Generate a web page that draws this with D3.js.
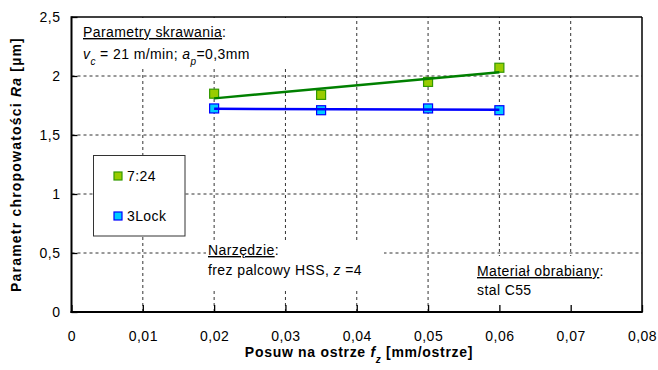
<!DOCTYPE html>
<html>
<head>
<meta charset="utf-8">
<script src="https://cdn.jsdelivr.net/npm/d3@7"></script>
<style>
  html, body { margin: 0; padding: 0; background: #fff; }
  svg { display: block; font-family: "Liberation Sans", Arial, sans-serif; }
</style>
</head>
<body>
<svg id="chart" width="658" height="370"></svg>
<script>
// ---- data ----
const feeds = [0.02, 0.035, 0.05, 0.06];          // f_z [mm/ostrze]
const ra724 = [1.85, 1.84, 1.95, 2.07];           // series "7:24"
const ra3Lock = [1.725, 1.71, 1.725, 1.71];       // series "3Lock"
const seriesNames = ["7:24", "3Lock"];
const xTicks = [0, 0.01, 0.02, 0.03, 0.04, 0.05, 0.06, 0.07, 0.08];
const yTicks = [0, 0.5, 1, 1.5, 2, 2.5];

const W = 658, H = 370;
const margin = {left: 71.5, right: 16, top: 17, bottom: 58};
const svg = d3.select("#chart");

const x = d3.scaleLinear().domain([0, 0.08]).range([margin.left, W - margin.right]);
const y = d3.scaleLinear().domain([0, 2.5]).range([H - margin.bottom, margin.top]);
const fmt = d => d3.format("")(d).replace(".", ",");
const FS = 14;
const LS = "0.4px";

// grid
const grid = svg.append("g");
grid.selectAll("line.h").data(yTicks.filter(d => d > 0 && d < 2.5)).join("line")
  .attr("x1", x(0)).attr("x2", x(0.08)).attr("y1", d => y(d)).attr("y2", d => y(d))
  .attr("stroke", "#333").attr("stroke-width", 1).attr("stroke-dasharray", "3,3");
grid.selectAll("line.v").data(xTicks.filter(d => d > 0 && d < 0.08)).join("line")
  .attr("y1", y(0)).attr("y2", y(2.5)).attr("x1", d => x(d)).attr("x2", d => x(d))
  .attr("stroke", "#333").attr("stroke-width", 1).attr("stroke-dasharray", "3,3");

// text boxes (white background covering grid)
function box(x0, y0, x1, y1) {
  svg.append("rect").attr("x", x0).attr("y", y0).attr("width", x1 - x0).attr("height", y1 - y0).attr("fill", "#fff");
}
box(x(0) + 1, y(2.5) + 1, 340, 66);
box(206, 242, 384, 288);
box(470, 256, 625, y(0) - 1);

// axes
const xAxis = d3.axisBottom(x).tickValues(xTicks).tickSizeInner(-7).tickSizeOuter(0).tickFormat(fmt).tickPadding(19);
const gx = svg.append("g").attr("transform", `translate(0,${y(0)})`).call(xAxis);
gx.select(".domain").remove();
gx.selectAll("line").attr("stroke", "#000").attr("stroke-width", 1.3);
gx.selectAll("text").attr("font-size", FS).attr("fill", "#000").style("letter-spacing", "0.5px").attr("font-family", "Liberation Sans, Arial, sans-serif");

const yAxis = d3.axisLeft(y).tickValues(yTicks).tickSizeInner(-6).tickSizeOuter(0).tickFormat(fmt).tickPadding(11);
const gy = svg.append("g").attr("transform", `translate(${x(0)},0)`).call(yAxis);
gy.select(".domain").remove();
gy.selectAll("line").attr("stroke", "#000").attr("stroke-width", 1.3);
gy.selectAll("text").attr("font-size", FS).attr("fill", "#000").style("letter-spacing", "0.5px").attr("font-family", "Liberation Sans, Arial, sans-serif");

// frame
svg.append("line").attr("x1", x(0)).attr("x2", x(0.08)).attr("y1", y(2.5)).attr("y2", y(2.5)).attr("stroke", "#000").attr("stroke-width", 1.5);
svg.append("line").attr("x1", x(0.08)).attr("x2", x(0.08)).attr("y1", y(2.5)).attr("y2", y(0)).attr("stroke", "#000").attr("stroke-width", 1.5);
svg.append("line").attr("x1", x(0)).attr("x2", x(0)).attr("y1", y(2.5) - 0.75).attr("y2", y(0) + 1).attr("stroke", "#000").attr("stroke-width", 2);
svg.append("line").attr("x1", x(0) - 1).attr("x2", x(0.08) + 0.75).attr("y1", y(0)).attr("y2", y(0)).attr("stroke", "#000").attr("stroke-width", 2);

// series
const styles = [
  {fill: "#99cc00", stroke: "#339900", line: "#008000"},
  {fill: "#00ccff", stroke: "#0000ff", line: "#0000ff"}
];
const allSeries = [ra724, ra3Lock];

function regression(xs, ys) {
  const mx = d3.mean(xs), my = d3.mean(ys);
  const sxy = d3.sum(xs, (v, i) => (v - mx) * (ys[i] - my));
  const sxx = d3.sum(xs, v => (v - mx) * (v - mx));
  const b = sxy / sxx;
  return v => my + b * (v - mx);
}

const ms = 9;
allSeries.forEach((vals, si) => {
  const st = styles[si];
  svg.append("g").selectAll("rect").data(feeds).join("rect")
    .attr("x", (d) => x(d) - ms / 2).attr("y", (d, i) => y(vals[i]) - ms / 2)
    .attr("width", ms).attr("height", ms)
    .attr("fill", st.fill).attr("stroke", st.stroke).attr("stroke-width", 1.2);
});
allSeries.forEach((vals, si) => {
  const st = styles[si];
  const f = regression(feeds, vals);
  const ends = d3.extent(feeds);
  svg.append("path")
    .attr("d", d3.line().x(d => x(d)).y(d => y(f(d)))(ends))
    .attr("stroke", st.line).attr("stroke-width", 2.5).attr("fill", "none");
});

// legend
const lg = svg.append("g");
lg.append("rect").attr("x", 93.5).attr("y", 155.5).attr("width", 91.5).attr("height", 80.5)
  .attr("fill", "#fff").attr("stroke", "#333").attr("stroke-width", 1);
seriesNames.forEach((n, i) => {
  const cy = 176 + i * 40;
  lg.append("rect").attr("x", 118 - 4).attr("y", cy - 4).attr("width", 8).attr("height", 8)
    .attr("fill", styles[i].fill).attr("stroke", styles[i].stroke).attr("stroke-width", 1.2);
  lg.append("text").attr("x", 127).attr("y", cy + 5).attr("font-size", FS).style("letter-spacing", LS).text(n);
});

// annotations
function annot(x0, y0, parts) {
  const t = svg.append("text").attr("x", x0).attr("y", y0).attr("font-size", FS).style("letter-spacing", LS);
  parts.forEach(p => {
    const s = t.append("tspan").text(p.t);
    if (p.u) s.attr("text-decoration", "underline");
    if (p.i) s.attr("font-style", "italic");
    if (p.sub) s.attr("font-size", 10).attr("baseline-shift", "sub");
  });
  return t;
}
annot(83, 37, [{t: "Parametry skrawania", u: true}, {t: ":"}]);
annot(83, 59, [{t: "v", i: true}, {t: "c", i: true, sub: true}, {t: " = 21 m/min; "}, {t: "a", i: true}, {t: "p", i: true, sub: true}, {t: "=0,3mm"}]);
annot(208, 255, [{t: "Narzędzie", u: true}, {t: ":"}]);
annot(208, 275, [{t: "frez palcowy HSS, "}, {t: "z", i: true}, {t: " =4"}]);
annot(477, 276, [{t: "Materiał obrabiany", u: true}, {t: ":"}]);
annot(477, 295, [{t: "stal C55"}]);

// axis titles
const xt = svg.append("text").attr("x", 359).attr("y", 357).attr("text-anchor", "middle")
  .attr("font-size", 14).attr("font-weight", "bold").style("letter-spacing", "0.7px");
xt.append("tspan").text("Posuw na ostrze ");
xt.append("tspan").attr("font-style", "italic").text("f");
xt.append("tspan").attr("font-style", "italic").attr("font-size", 10).attr("baseline-shift", "sub").text("z");
xt.append("tspan").text(" [mm/ostrze]");

const yt = svg.append("text").attr("transform", `translate(21,${(y(0) + y(2.5)) / 2}) rotate(-90)`)
  .attr("text-anchor", "middle").attr("font-size", 14).attr("font-weight", "bold").style("letter-spacing", "1.2px");
yt.append("tspan").text("Parametr chropowatości  ");
yt.append("tspan").attr("font-style", "italic").text("Ra");
yt.append("tspan").text(" [µm]");
</script>
</body>
</html>
